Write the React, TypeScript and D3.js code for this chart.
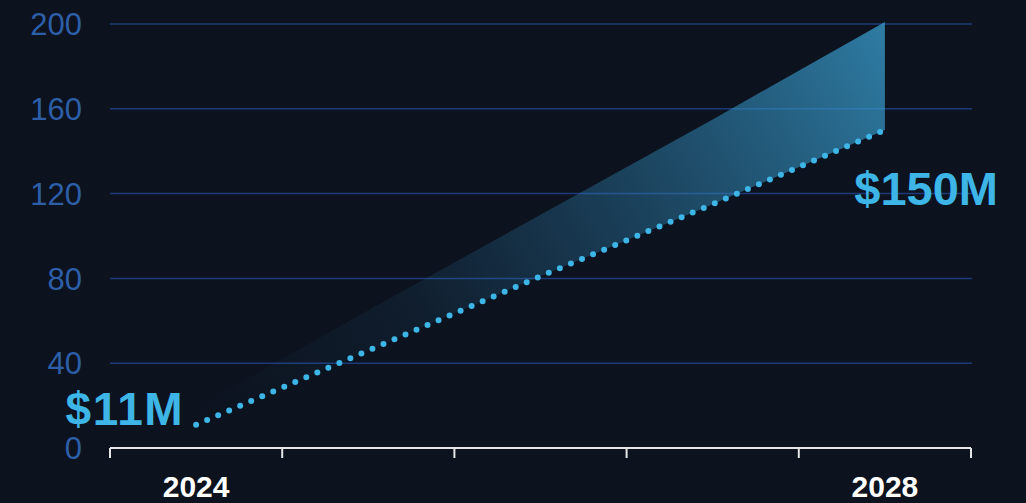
import { useEffect } from "react";
import * as d3 from "d3";

const years = ["2024", "2025", "2026", "2027", "2028"];
const yearLabels = ["2024", "", "", "", "2028"];
const revenue = [11, 46, 81, 115, 150];
const upside = [19, 65, 110, 155, 201];
const yTicks = [0, 40, 80, 120, 160, 200];

const width = 1026;
const height = 503;

export default function App() {
  useEffect(() => {
    document.body.style.margin = "0";
    document.body.style.background = "#0c121e";
  }, []);

  const x = d3.scaleBand().domain(years).range([110, 971]).padding(0);
  const y = d3.scaleLinear().domain([0, 200]).range([448, 24]);
  const cx = (i: number) => (x(years[i]) ?? 0) + x.bandwidth() / 2;

  const line = d3
    .line<number>()
    .x((_, i) => cx(i))
    .y((d) => y(d));

  const area = d3
    .area<number>()
    .x((_, i) => cx(i))
    .y0((_, i) => y(revenue[i]))
    .y1((d) => y(d));

  const first = 0;
  const last = years.length - 1;

  return (
    <svg width={width} height={height} style={{ display: "block", background: "#0c121e" }}
      fontFamily="'Liberation Sans', Arial, sans-serif">
      <defs>
        <linearGradient id="band" gradientUnits="userSpaceOnUse"
          x1={cx(first)} y1={y(revenue[first])} x2={cx(last)} y2={y(upside[last])}>
          <stop offset="0" stopColor="#2f7fae" stopOpacity={0} />
          <stop offset="0.3" stopColor="#2f80b0" stopOpacity={0.1} />
          <stop offset="0.6" stopColor="#3189b8" stopOpacity={0.38} />
          <stop offset="1" stopColor="#3a9fd0" stopOpacity={0.75} />
        </linearGradient>
      </defs>

      {yTicks.map((t) => (
        <g key={t}>
          {t > 0 && (
            <line x1={110} x2={972} y1={y(t)} y2={y(t)} stroke="#1d3a78" strokeWidth={1.5} />
          )}
          <text x={82} y={y(t)} dy="0.36em" textAnchor="end" fontSize={31} fill="#2d5fa8">
            {t}
          </text>
        </g>
      ))}

      <path d={area(upside) ?? ""} fill="url(#band)" />

      <path d={line(revenue) ?? ""} fill="none" stroke="#3db5e6" strokeWidth={6}
        strokeLinecap="round" strokeDasharray="0 12" />

      <line x1={110} x2={971} y1={448} y2={448} stroke="#e6e6e6" strokeWidth={2} />
      {years.map((yr) => (
        <line key={"t" + yr} x1={x(yr) ?? 0} x2={x(yr) ?? 0} y1={448} y2={458}
          stroke="#e6e6e6" strokeWidth={2} />
      ))}
      <line x1={971} x2={971} y1={448} y2={458} stroke="#e6e6e6" strokeWidth={2} />

      {yearLabels.map((lab, i) =>
        lab ? (
          <text key={"l" + i} x={cx(i)} y={497} textAnchor="middle" fontSize={30}
            fontWeight="bold" fill="#ffffff">
            {lab}
          </text>
        ) : null
      )}

      <text x={cx(first) - 12} y={y(revenue[first])} textAnchor="end" fontSize={46}
        fontWeight="bold" fill="#3db5e6" letterSpacing={1.5}>
        ${revenue[first]}M
      </text>
      <text x={998} y={205} textAnchor="end" fontSize={47} fontWeight="bold" fill="#3db5e6">
        ${revenue[last]}M
      </text>
    </svg>
  );
}
